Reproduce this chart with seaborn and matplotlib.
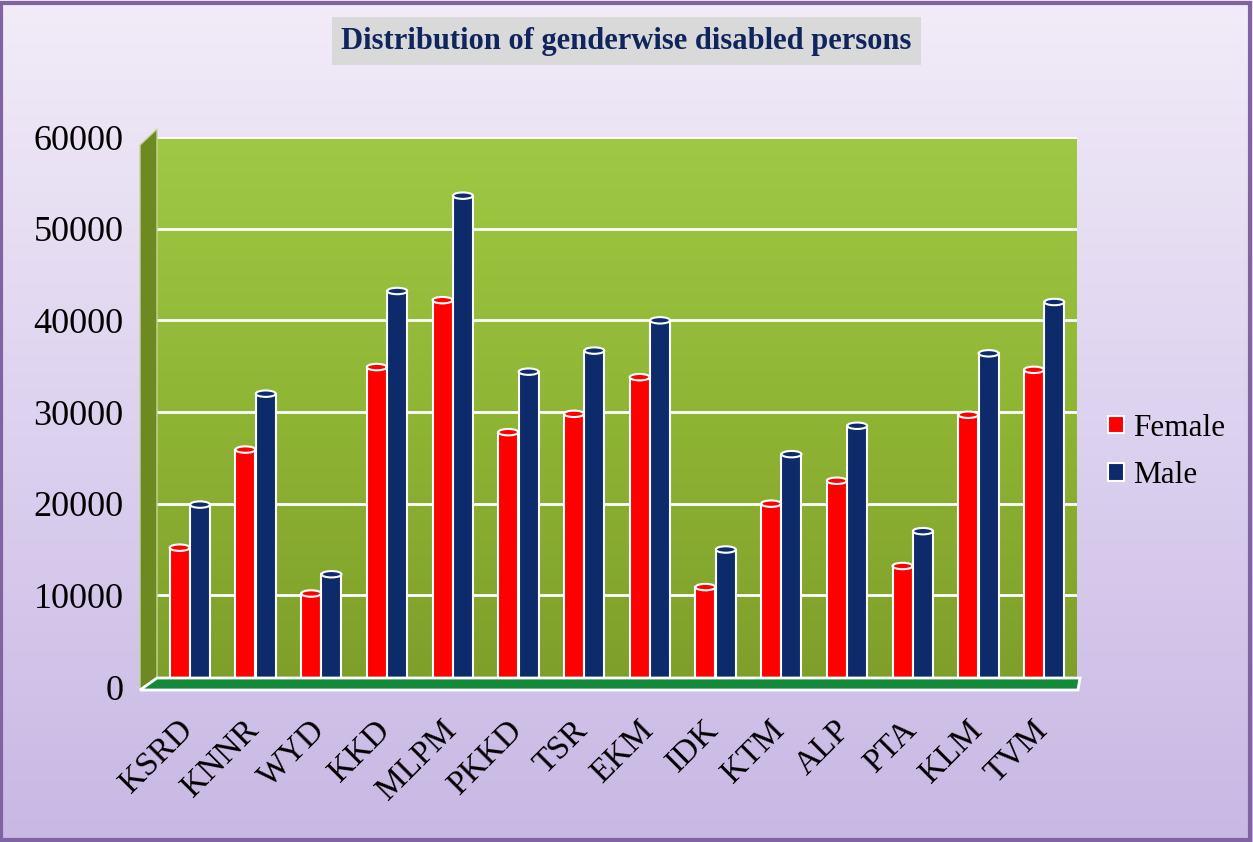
import numpy as np
import pandas as pd
import matplotlib
matplotlib.use("Agg")
import matplotlib.pyplot as plt
from matplotlib.patches import Rectangle, Polygon, Ellipse
from matplotlib.colors import LinearSegmentedColormap
import matplotlib.transforms as mtransforms
import seaborn as sns

districts = ["KSRD", "KNNR", "WYD", "KKD", "MLPM", "PKKD", "TSR",
             "EKM", "IDK", "KTM", "ALP", "PTA", "KLM", "TVM"]
female = [15200, 25900, 10200, 34900, 42200, 27800, 29800,
          33800, 10900, 20000, 22500, 13200, 29700, 34600]
male = [19900, 32000, 12300, 43200, 53600, 34400, 36700,
        40000, 15000, 25400, 28500, 17000, 36400, 42000]
series = ["Female", "Male"]
yticks = [0, 10000, 20000, 30000, 40000, 50000, 60000]
title = "Distribution of genderwise disabled persons"

df = pd.DataFrame({
    "district": districts * 2,
    "value": female + male,
    "gender": ["Female"] * len(districts) + ["Male"] * len(districts),
})

sns.set_theme(style="white")
plt.rcParams["font.family"] = ["Liberation Serif", "DejaVu Serif"]

W, H = 1253, 842
fig = plt.figure(figsize=(W / 100, H / 100), dpi=100)

# background gradient for the whole figure
bg = fig.add_axes([0, 0, 1, 1], zorder=-10)
grad = np.linspace(0, 1, 256).reshape(-1, 1)
cm_bg = LinearSegmentedColormap.from_list("bg", ["#f2ecf8", "#ddd2ef", "#c8b8e4"])
bg.imshow(grad, aspect="auto", cmap=cm_bg, extent=[0, 1, 0, 1], origin="upper")
bg.set_axis_off()
bg.add_patch(Rectangle((0.001, 0.002), 0.997, 0.995, transform=bg.transAxes,
                       fill=False, edgecolor="#8064a2", linewidth=3))

def fx(px):
    return px / W

def fy(py):
    return 1 - py / H

left, right, top, bottom = 157, 1077, 137, 687
ax = fig.add_axes([fx(left), fy(bottom), fx(right) - fx(left), fy(top) - fy(bottom)])

# left side wall and floor (3D look)
fig.patches.append(Polygon([(fx(140), fy(145)), (fx(157), fy(129)), (fx(157), fy(680)),
                            (fx(140), fy(690))], closed=True, transform=fig.transFigure,
                           facecolor="#6d8a22", edgecolor="#c8d59a", linewidth=1, zorder=0))
fig.patches.append(Polygon([(fx(140), fy(690)), (fx(157), fy(678)), (fx(1080), fy(678)),
                            (fx(1078), fy(690))], closed=True, transform=fig.transFigure,
                           facecolor="#138a3a", edgecolor="white", linewidth=2, zorder=0))

# green gradient for back wall
cm_wall = LinearSegmentedColormap.from_list("wall", ["#9fc944", "#8fb534", "#7e9e2a"])
ax.imshow(grad, aspect="auto", cmap=cm_wall, extent=[-0.5, len(districts) - 0.5, 0, 60000],
          origin="upper", zorder=0)

sns.barplot(data=df, x="district", y="value", hue="gender", order=districts,
            hue_order=series, palette=["#ff0000", "#0d2a6b"], width=0.62, gap=0.02,
            edgecolor="white", linewidth=1.5, saturation=1, ax=ax, zorder=3)

# cylinder caps
for p in ax.patches:
    if isinstance(p, Rectangle) and p.get_height() > 0:
        x0, w, h = p.get_x(), p.get_width(), p.get_height()
        fc = p.get_facecolor()
        ax.add_patch(Ellipse((x0 + w / 2, h), w, 700, facecolor=fc, edgecolor="white",
                             linewidth=1.5, zorder=4))

ax.set_xlim(-0.5, len(districts) - 0.5)
ax.set_ylim(0, 60000)
ax.set_yticks(yticks)
ax.set_yticklabels([str(v) for v in yticks], fontsize=26, color="black")
for v in yticks[1:]:
    ax.axhline(v, color="white", linewidth=2, zorder=1)
ax.tick_params(axis="y", length=0, pad=24)
ax.tick_params(axis="x", length=0, pad=20)
ax.set_xticks(range(len(districts)))
ax.set_xticklabels(districts, rotation=45, ha="right", rotation_mode="anchor",
                   fontsize=24, color="black")
shift = mtransforms.ScaledTranslation(-12 / 100, 0, fig.dpi_scale_trans)
for lab in ax.get_xticklabels():
    lab.set_transform(lab.get_transform() + shift)
ax.set_xlabel("")
ax.set_ylabel("")
for s in ax.spines.values():
    s.set_visible(False)

handles, labels = ax.get_legend_handles_labels()
leg = ax.legend(handles, labels, loc="center left", bbox_to_anchor=(fx(1080), fy(452)),
                bbox_transform=fig.transFigure, frameon=False, fontsize=22.5,
                handlelength=0.5, handleheight=0.5, handletextpad=0.3, labelspacing=0.6)
for h in leg.legend_handles:
    h.set_edgecolor("white")
    h.set_linewidth(1.5)
for t in leg.get_texts():
    t.set_color("black")

fig.text(0.5, fy(41), title, ha="center", va="center", fontsize=22, fontweight="bold",
         color="#10255e",
         bbox=dict(boxstyle="square,pad=0.3", facecolor="#d9d9d9", edgecolor="none"))

fig.savefig("out.png", dpi=100)
